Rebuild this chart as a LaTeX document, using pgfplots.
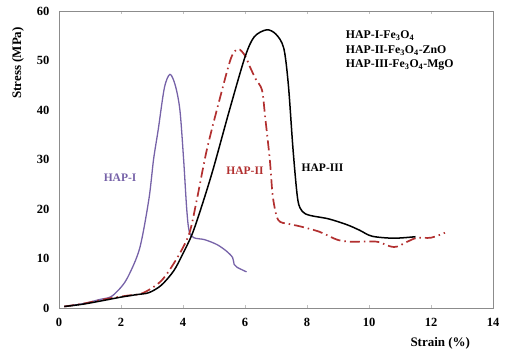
\documentclass[border=0pt]{standalone}
\usepackage{pgfplots}
\pgfplotsset{compat=1.18}
\usepackage{fontspec}
\setmainfont{Liberation Serif}
\definecolor{hapone}{RGB}{118,98,168}
\definecolor{haptwo}{RGB}{178,48,48}
\begin{document}
\begin{tikzpicture}
\begin{axis}[
  scale only axis, width=434pt, height=297pt,
  xmin=0, xmax=14, ymin=0, ymax=60,
  xtick={0,2,4,6,8,10,12,14}, ytick={0,10,20,30,40,50,60},
  xticklabels={0,2,4,6,8,10,12,14},
  yticklabels={0,10,20,30,40,50,60},
  axis line style={draw=gray!90, line width=0.9pt},
  tick style={draw=gray!50, line width=0.6pt},
  tick align=inside, major tick length=3pt,
  ytick style={draw=none},
  ticklabel style={font=\bfseries\fontsize{12.5}{14}\selectfont},
  xticklabel style={yshift=-7pt},
  yticklabel style={xshift=-6pt},
  clip=false,
]
\path (rel axis cs:0,0) coordinate (A);
% HAP-I
\addplot[hapone, line width=1.3pt, smooth, tension=0.5] coordinates {
(0.17,0.3) (0.8,0.9) (1.3,1.7) (1.65,2.2) (1.9,3.5) (2.2,6) (2.6,12) (2.9,22) (3.05,30) (3.2,36) (3.4,44.5) (3.58,47.2) (3.75,45) (3.9,40) (4.02,30) (4.12,20) (4.2,15.5) (4.35,14.2) (4.7,13.8) (5.1,12.8) (5.4,11.5) (5.6,10.2) (5.65,8.8) (5.75,8.2) (6.05,7.3)
};
% HAP-II
\addplot[haptwo, line width=1.7pt, dash pattern=on 10pt off 4pt on 1.5pt off 4pt, smooth, tension=0.5] coordinates {
(0.17,0.3) (0.8,0.9) (1.5,1.8) (2.2,2.5) (2.7,3.0) (3.3,5.5) (3.8,10) (4.2,15) (4.45,22) (4.77,32) (5.2,42.6) (5.55,50.5) (5.78,52.3) (6.0,51) (6.16,48.7) (6.35,46.2) (6.55,44) (6.65,38.6) (6.8,30) (6.9,22.4) (7.07,17.8) (7.4,17) (7.77,16.5) (8.4,15.4) (8.97,13.8) (9.4,13.4) (10.25,13.4) (10.6,12.6) (10.9,12.4) (11.5,14.1) (12.0,14.2) (12.45,15.2)
};
% HAP-III
\addplot[black, line width=1.5pt, smooth, tension=0.5] coordinates {
(0.17,0.3) (0.8,0.8) (1.5,1.6) (2.0,2.2) (2.5,2.7) (2.9,3.1) (3.3,4.6) (3.7,7.5) (4.0,11) (4.3,15) (4.6,20.5) (4.97,28) (5.5,40) (6.0,50.7) (6.3,54.8) (6.7,56.2) (7.0,55.3) (7.25,52.5) (7.4,45) (7.55,32) (7.7,22) (7.85,19.5) (8.1,18.7) (8.7,18) (9.3,16.8) (9.7,15.7) (10.1,14.5) (10.8,14.1) (11.5,14.4)
};
\node[font=\bfseries\fontsize{11.5}{13}\selectfont, text=hapone] at (axis cs:1.97,26.3) {HAP-I};
\node[font=\bfseries\fontsize{11.5}{13}\selectfont, text=haptwo] at (axis cs:6.0,27.7) {HAP-II};
\node[font=\bfseries\fontsize{11.5}{13}\selectfont, text=black] at (axis cs:8.5,28.3) {HAP-III};
\node[font=\bfseries\fontsize{11.8}{14.5}\selectfont, anchor=north west, align=left, inner sep=0pt] at (axis cs:9.25,56.0) {HAP-I-Fe\textsubscript{3}O\textsubscript{4}\\HAP-II-Fe\textsubscript{3}O\textsubscript{4}-ZnO\\HAP-III-Fe\textsubscript{3}O\textsubscript{4}-MgO};
\node[rotate=90, font=\bfseries\fontsize{13}{15}\selectfont] at ([xshift=-41pt]axis cs:0,49.5) {Stress (MPa)};
\node[font=\bfseries\fontsize{13}{15}\selectfont] at ([yshift=-35pt]axis cs:12.3,0) {Strain (\%)};
\end{axis}
\pgfresetboundingbox
\path (A) ++(-59pt,-45pt) rectangle ++(517pt,353pt);
\end{tikzpicture}
\end{document}
